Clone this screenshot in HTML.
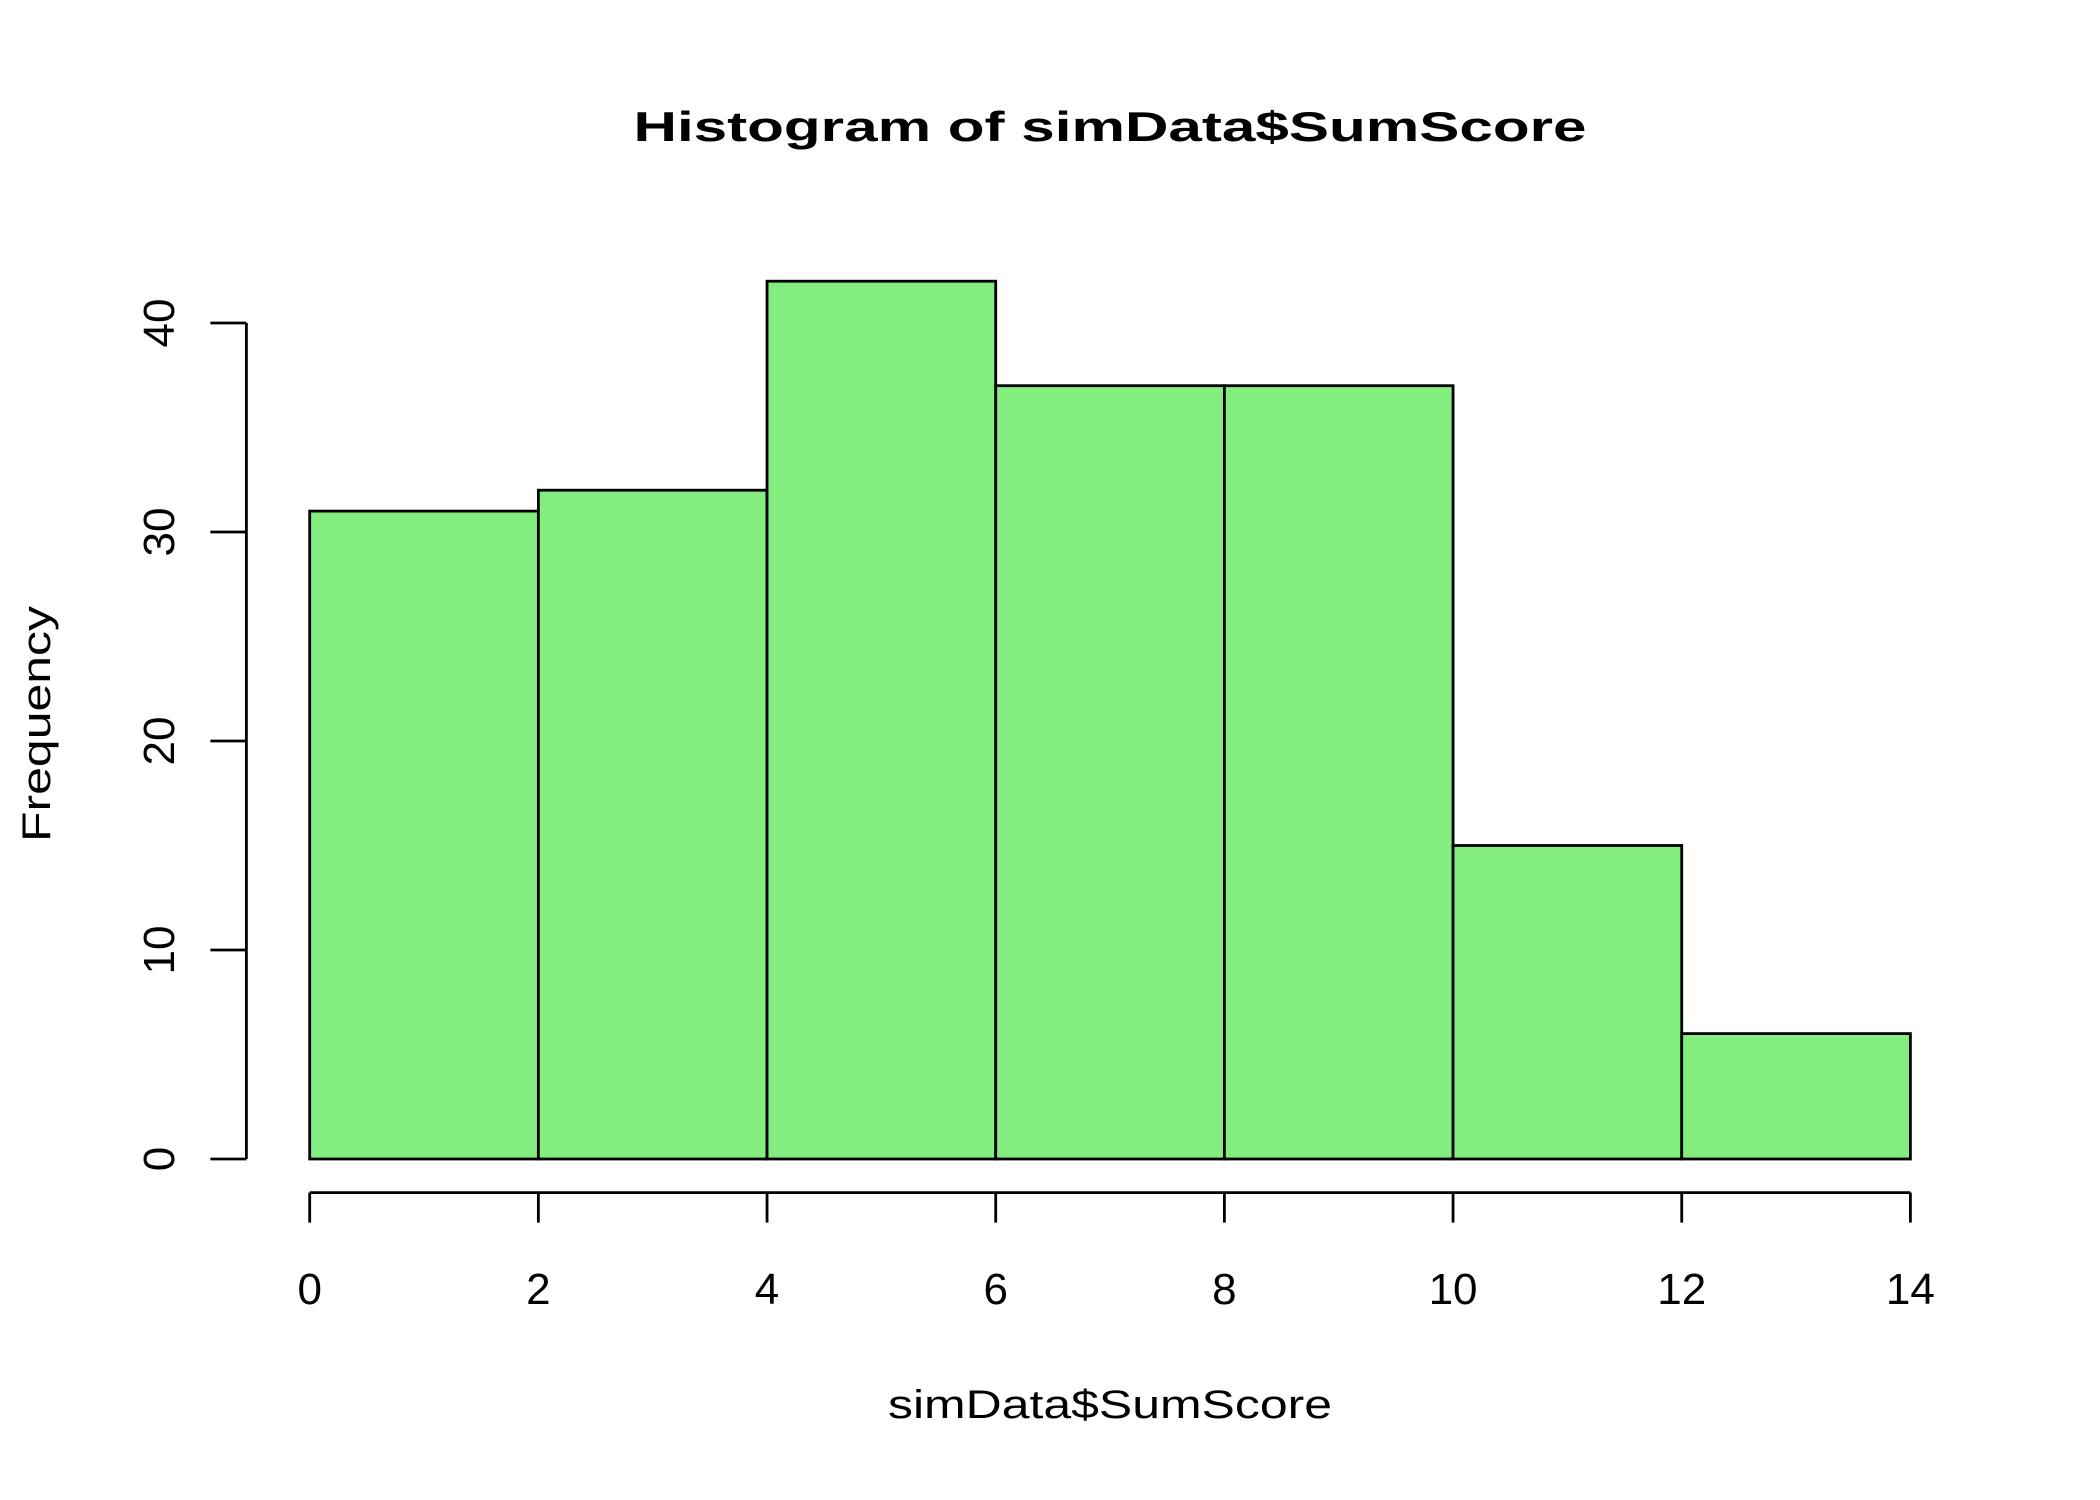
<!DOCTYPE html>
<html><head><meta charset="utf-8"><style>html,body{margin:0;padding:0;background:#fff}svg{display:block}text{font-family:"Liberation Sans",Arial,sans-serif;fill:#000}</style></head>
<body>
<svg id="chart" width="2100" height="1500" viewBox="0 0 2100 1500" xmlns="http://www.w3.org/2000/svg">
<rect width="2100" height="1500" fill="#fff"/>
<text x="1110" y="141" text-anchor="middle" font-size="42" font-weight="bold" textLength="953" lengthAdjust="spacingAndGlyphs">Histogram of simData$SumScore</text>
<text x="1110" y="1418" text-anchor="middle" font-size="40" textLength="444" lengthAdjust="spacingAndGlyphs">simData$SumScore</text>
<text transform="translate(50,724) rotate(-90)" text-anchor="middle" font-size="40" textLength="236" lengthAdjust="spacingAndGlyphs">Frequency</text>
<g id="bars"></g>
<g id="axes"></g>
</svg>
<script>
const binEdges = [0, 2, 4, 6, 8, 10, 12, 14];
const counts = [31, 32, 42, 37, 37, 15, 6];
const xTicks = [0, 2, 4, 6, 8, 10, 12, 14];
const yTicks = [0, 10, 20, 30, 40];

const NS = 'http://www.w3.org/2000/svg';
const X0 = 309.7, X1 = 1910.4, Y0 = 1159, Y40 = 323;
function xs(v) { return X0 + (v - 0) / (14 - 0) * (X1 - X0); }
function ys(v) { return Y0 - v / 40 * (Y0 - Y40); }
function mk(tag, attrs) { const e = document.createElementNS(NS, tag); for (const k in attrs) e.setAttribute(k, attrs[k]); return e; }

const bars = document.getElementById('bars');
counts.forEach((c, i) => {
  const r = mk('rect', { x: xs(binEdges[i]), y: ys(c), width: xs(binEdges[i + 1]) - xs(binEdges[i]), height: ys(0) - ys(c), fill: '#83ee7f', stroke: '#000', 'stroke-width': 2.8 });
  
  
  bars.appendChild(r);
});

const axes = document.getElementById('axes');
const AXX = 246.4, AXY = 1192.6;
const yl = mk('line', { x1: AXX, x2: AXX, y1: ys(yTicks[0]), y2: ys(yTicks[yTicks.length - 1]), stroke: '#000', 'stroke-width': 2.8 });


axes.appendChild(yl);
yTicks.forEach(t => {
  const l = mk('line', { x1: AXX - 36, x2: AXX, y1: ys(t), y2: ys(t), stroke: '#000', 'stroke-width': 2.8 });
  
  
  axes.appendChild(l);
  const tx = mk('text', { transform: 'translate(174,' + ys(t) + ') rotate(-90)', 'text-anchor': 'middle', 'font-size': 44 });
  tx.textContent = t;
  
  
  axes.appendChild(tx);
});
const xl = mk('line', { x1: xs(xTicks[0]), x2: xs(xTicks[xTicks.length - 1]), y1: AXY, y2: AXY, stroke: '#000', 'stroke-width': 2.8 });


axes.appendChild(xl);
xTicks.forEach(t => {
  const l = mk('line', { x1: xs(t), x2: xs(t), y1: AXY, y2: AXY + 30, stroke: '#000', 'stroke-width': 2.8 });
  
  
  axes.appendChild(l);
  const tx = mk('text', { x: xs(t), y: 1304, 'text-anchor': 'middle', 'font-size': 44 });
  tx.textContent = t;
  
  
  axes.appendChild(tx);
});
</script>
</body></html>
